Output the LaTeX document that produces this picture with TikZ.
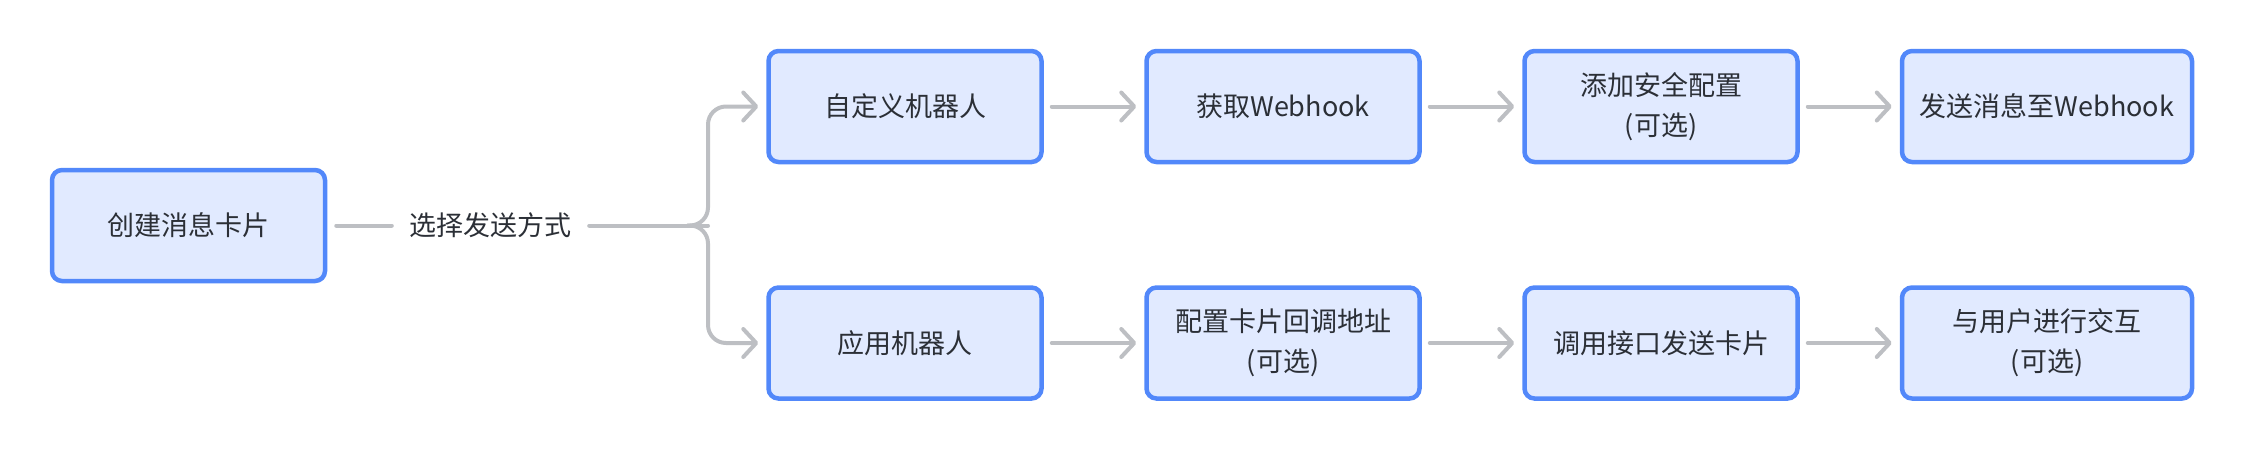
\documentclass[tikz,border=0pt]{standalone}
\usepackage{fontspec}
\setmainfont{Noto Sans CJK SC}
\usetikzlibrary{arrows.meta}
\definecolor{boxfill}{HTML}{E1EAFF}
\definecolor{boxline}{HTML}{5288FA}
\definecolor{connc}{HTML}{BDBFC3}
\definecolor{txt}{HTML}{2B2F36}
\tikzset{
  stepbox/.style={draw=boxline, fill=boxfill, line width=4.5pt, rounded corners=10pt,
    minimum width=273pt, minimum height=111pt, align=center, text=txt,
    font=\fontsize{27pt}{40pt}\selectfont, inner sep=0pt},
  widebox/.style={stepbox, minimum width=290pt},
  lbltext/.style={text=txt, font=\fontsize{27pt}{40pt}\selectfont, inner sep=0pt},
  conn/.style={draw=connc, line width=4pt, line cap=round, line join=round},
  arr/.style={conn, -{Straight Barb[length=13pt,width=28pt,line cap=round,line join=round]},
    shorten <=8pt, shorten >=8pt},
}
\begin{document}
\begin{tikzpicture}[x=1pt,y=-1pt]
\useasboundingbox (0,0) rectangle (2242,448);
\node[stepbox] (create) at (188.5,225.5) {创建消息卡片};
\node[lbltext] (lbl) at (490,225.5) {选择发送方式};
\coordinate (j) at (708,225.5);
% top row
\node[stepbox] (t1) at (905,106.5) {自定义机器人};
\node[stepbox] (t2) at (1283,106.5) {获取Webhook};
\node[stepbox] (t3) at (1661,106.5) {添加安全配置\\(可选)};
\node[widebox] (t4) at (2047,106.5) {发送消息至Webhook};
% bottom row
\node[stepbox] (b1) at (905,343) {应用机器人};
\node[stepbox] (b2) at (1283,343) {配置卡片回调地址\\(可选)};
\node[stepbox] (b3) at (1661,343) {调用接口发送卡片};
\node[widebox] (b4) at (2047,343) {与用户进行交互\\(可选)};
% connectors
\draw[conn, shorten <=9pt, shorten >=17pt] (create.east) -- (lbl.west);
\draw[conn, shorten <=18pt] (lbl.east) -- (j);
\draw[conn, rounded corners=18pt, -{Straight Barb[length=13pt,width=28pt,line cap=round,line join=round]}, shorten >=8pt] ([xshift=-20pt]j) -- (j) -- (j |- t1.west) -- (t1.west);
\draw[conn, rounded corners=18pt, -{Straight Barb[length=13pt,width=28pt,line cap=round,line join=round]}, shorten >=8pt] ([xshift=-20pt]j) -- (j) -- (j |- b1.west) -- (b1.west);
\draw[arr] (t1) -- (t2);
\draw[arr] (t2) -- (t3);
\draw[arr] (t3) -- (t4);
\draw[arr] (b1) -- (b2);
\draw[arr] (b2) -- (b3);
\draw[arr] (b3) -- (b4);
\end{tikzpicture}
\end{document}
